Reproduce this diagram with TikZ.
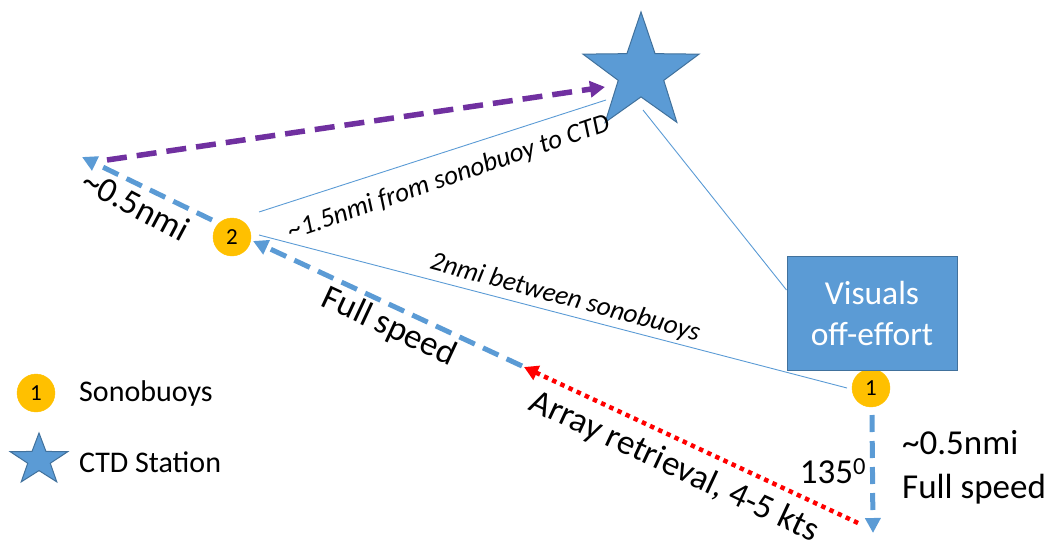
\documentclass[tikz,border=0pt]{standalone}
\usepackage{fontspec}
\setmainfont{Carlito}
\usetikzlibrary{shapes.geometric,arrows.meta,calc,backgrounds}
\definecolor{pblue}{HTML}{5B9BD5}
\definecolor{pbluedark}{HTML}{41719C}
\definecolor{pgold}{HTML}{FFC000}
\definecolor{ppurple}{HTML}{7030A0}
\definecolor{pred}{HTML}{FF0000}
\begin{document}
\begin{tikzpicture}[x=1pt,y=-1pt,
  buoy/.style={circle,fill=pgold,draw=pgold,minimum size=38pt,inner sep=0pt,font=\fontsize{23}{26}\selectfont},
  ctd/.style={star,star points=5,star point ratio=2.55,fill=pblue,draw=pbluedark,line width=1pt,inner sep=0pt},
  visbox/.style={rectangle,fill=pblue,draw=pbluedark,line width=1pt,minimum width=170pt,minimum height=114pt,text=white,align=center,font=\fontsize{33.5}{41}\selectfont},
  thinline/.style={draw=pblue,line width=0.9pt},
  bluearrow/.style={draw=pblue,line width=5pt,dash pattern=on 17pt off 9pt,-{Triangle[length=15pt,width=15pt,fill=pblue]}},
  purplearrow/.style={draw=ppurple,line width=5.5pt,dash pattern=on 20pt off 10pt,-{Triangle[length=15pt,width=16pt,fill=ppurple]}},
  redarrow/.style={draw=pred,line width=4.5pt,dash pattern=on 4.5pt off 4.5pt,-{Triangle[length=14pt,width=15pt,fill=pred]}},
  biglabel/.style={font=\fontsize{35}{44}\selectfont,inner sep=0pt},
  itlabel/.style={font=\fontsize{27}{32}\selectfont\itshape,inner sep=0pt},
  legendtext/.style={font=\fontsize{30}{35}\selectfont,anchor=west,inner sep=0pt}
]
\useasboundingbox (0,0) rectangle (1051,543);

% main nodes
\node[ctd,minimum size=122pt] (star) at (641,73) {};
\node[buoy] (s2) at (232,237) {2};
\node[buoy] (s1) at (871,388) {1};
\node[visbox] (box) at (872,313) {Visuals\\off-effort};

% free ends
\coordinate (tipL) at (82,157);
\coordinate (pstart) at (107,160);
\coordinate (turn) at (522,366);
\coordinate (redstart) at (858,523);
\coordinate (bottom) at (873,533);

\begin{pgfonlayer}{background}
\draw[thinline] ([shift={(-35,27)}]star.center) -- ([shift={(27,-25)}]s2.center);
\draw[thinline] ([shift={(2,37)}]star.center) -- ([shift={(0,-23)}]box.west);
\draw[thinline] ([shift={(27,-2)}]s2.center) -- ([shift={(-24,0)}]s1.center);
\end{pgfonlayer}

% arrows
\draw[bluearrow] ([shift={(-20,-17)}]s2.center) -- (tipL);
\draw[purplearrow] (pstart) -- ([shift={(-36,14)}]star.center);
\draw[bluearrow] (turn) -- ([shift={(21,4)}]s2.center);
\draw[redarrow] (redstart) -- ([shift={(2,1)}]turn);
\draw[bluearrow] ([shift={(1,27)}]s1.center) -- (bottom);

% labels
\node[biglabel,rotate=-28] (l05a) at (136,205) {\textasciitilde0.5nmi};
\node[itlabel,rotate=19] (l15) at (449,178) {\textasciitilde1.5nmi from sonobuoy to CTD};
\node[itlabel,rotate=-15] (l2) at (565,298) {2nmi between sonobuoys};
\node[biglabel,rotate=-25] (lfull) at (389,327) {Full speed};
\node[biglabel,rotate=-25] (larray) at (674,467) {Array retrieval, 4-5 kts};
\node[biglabel] (l135) at (833,471) {135\textsuperscript{0}};
\node[biglabel,anchor=west,align=left] (lright) at (902,467) {\textasciitilde0.5nmi\\Full speed};

% legend
\node[buoy] (leg1) at (36,393) {1};
\node[legendtext] (legt1) at (79,393) {Sonobuoys};
\node[ctd,minimum size=54pt,xscale=1.12] (leg2) at (39,460) {};
\node[legendtext] (legt2) at (79,462) {CTD Station};
\end{tikzpicture}
\end{document}
